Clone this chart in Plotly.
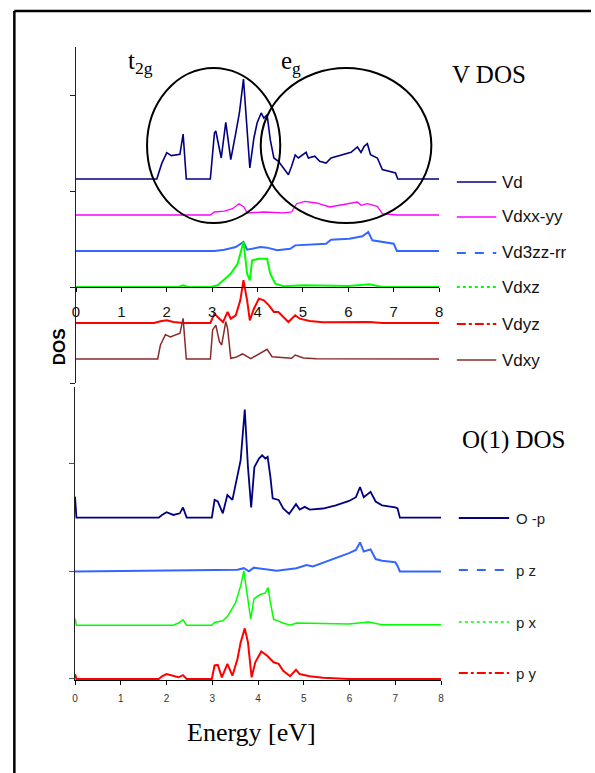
import plotly.graph_objects as go

# ---------------- data (energy in eV, DOS relative to each curve's baseline) -------------
# V DOS panel
E_VD = [0, 1.78, 1.89, 2.0, 2.1, 2.29, 2.36, 2.43, 2.96, 3.05, 3.08, 3.20, 3.30, 3.41, 3.52, 3.60, 3.69, 3.83,
        3.92, 3.99, 4.08, 4.14, 4.21, 4.28, 4.36, 4.46, 4.57, 4.68, 4.75, 4.83, 4.90, 5.07, 5.12, 5.26,
        5.37, 5.51, 5.62, 5.88, 6.06, 6.20, 6.28, 6.35, 6.42, 6.49, 6.64, 6.75, 6.89, 7.04, 7.09, 8.05]
D_VD = [0, 0, 1.3, 2.2, 1.95, 2.05, 3.75, 0, 0, 3.83, 4.0, 1.75, 4.72, 1.61, 3.83, 5.5, 8.33, 0.92,
        3.42, 4.67, 5.5, 5.08, 5.36, 3.28, 1.75, 1.47, 0.92, 0.36, 1.06, 2.0, 1.75, 2.22, 1.75, 1.9,
        1.47, 1.33, 1.75, 2.03, 2.22, 2.67, 2.22, 2.72, 2.94, 2.03, 1.75, 0.78, 0.64, 0.5, 0, 0]

E_DXXYY = [0, 2.96, 3.05, 3.27, 3.45, 3.59, 3.70, 3.77, 4.14, 4.57, 4.75, 4.86, 5.04, 5.30, 5.59,
           5.88, 6.20, 6.28, 6.42, 6.64, 6.75, 7.07, 8.05]
D_DXXYY = [0, 0, 0.25, 0.33, 0.53, 0.94, 0.67, 0.17, 0.25, 0.17, 0.25, 0.94, 1.14, 1.0, 0.67,
           0.86, 1.08, 0.81, 0.94, 0.72, 0.11, 0, 0]

E_D3ZZ = [0, 3.05, 3.27, 3.52, 3.69, 3.77, 4.07, 4.21, 4.43, 4.72, 4.83, 5.15, 5.51, 5.62, 6.02,
          6.31, 6.44, 6.53, 6.75, 7.0, 7.07, 8.05]
D_D3ZZ = [0, 0, 0.11, 0.33, 0.75, 0.11, 0.33, 0.28, 0.06, 0.19, 0.47, 0.56, 0.61, 0.94, 1.03,
          1.22, 1.58, 0.89, 0.75, 0.61, 0, 0]

E_DXZ = [0, 2.25, 2.36, 2.47, 2.96, 3.12, 3.41, 3.56, 3.69, 3.77, 3.83, 3.88, 4.03, 4.21, 4.28,
         4.39, 4.57, 5.01, 6.02, 6.46, 6.75, 8.05]
D_DXZ = [0, 0, 0.14, 0, 0, 0.14, 1.11, 1.94, 3.75, 1.11, 0.56, 2.22, 2.36, 2.36, 1.11,
         0.28, 0.06, 0.14, 0.08, 0.22, 0, 0]

E_DYZ = [0, 1.72, 1.86, 2.0, 2.15, 2.36, 2.96, 3.05, 3.16, 3.24, 3.34, 3.41, 3.52, 3.62, 3.69, 3.77,
         3.83, 3.92, 4.03, 4.14, 4.25, 4.36, 4.46, 4.57, 4.68, 4.83, 4.93, 5.15, 5.44, 6.46, 6.75, 8.05]
D_DYZ = [0, 0, 0.14, 0.22, 0.08, 0, 0, 0.78, 0.36, 0.08, 0.92, 0.36, 0.64, 1.89, 3.56, 1.89,
         0.22, 1.19, 2.03, 1.89, 1.47, 0.92, 0.92, 0.5, 0.08, 0.64, 0.36, 0.17, 0.06, 0.08, 0, 0]

E_DXY = [0, 1.80, 1.86, 1.97, 2.08, 2.29, 2.36, 2.43, 2.96, 3.01, 3.08, 3.16, 3.21, 3.30, 3.34, 3.41,
         3.52, 3.67, 3.85, 3.99, 4.21, 4.32, 4.57, 4.75, 4.83, 5.01, 5.30, 8.05]
D_DXY = [0, 0, 1.17, 2.03, 1.83, 2.14, 3.39, 0, 0, 2.42, 2.83, 1.44, 1.17, 3.11, 2.56, 0.06,
         0.14, 0.42, 0.03, 0.33, 0.81, 0.19, 0.11, 0.06, 0.33, 0.08, 0.03, 0]

# O(1) DOS panel
E_OP = [0, 0.03, 1.83, 1.90, 2.00, 2.15, 2.29, 2.36, 2.44, 2.99, 3.05, 3.12, 3.23, 3.33, 3.44, 3.55,
        3.62, 3.71, 3.78, 3.85, 3.92, 4.02, 4.09, 4.16, 4.21, 4.27, 4.32, 4.45, 4.55, 4.68, 4.83,
        4.91, 5.02, 5.13, 5.42, 5.70, 5.99, 6.14, 6.23, 6.31, 6.46, 6.57, 6.71, 7.00, 7.05, 7.10, 8.05]
D_OP = [0.39, 0, 0, 0.05, 0.10, 0.05, 0.08, 0.19, 0, 0, 0.33, 0.30, 0.08, 0.42, 0.33, 0.82,
        1.07, 2.01, 0.94, 0.19, 0.94, 1.10, 1.16, 1.10, 1.13, 0.76, 0.36, 0.33, 0.17, 0.07, 0.25,
        0.15, 0.20, 0.15, 0.17, 0.23, 0.31, 0.38, 0.57, 0.38, 0.48, 0.30, 0.23, 0.19, 0.17, 0, 0]

E_PZ = [0, 3.55, 3.69, 3.80, 3.91, 4.12, 4.41, 4.84, 5.06, 5.20, 5.63, 5.99, 6.14, 6.23, 6.31,
        6.46, 6.57, 6.71, 7.00, 7.05, 7.10, 8.05]
D_PZ = [0, 0.03, 0.06, 0, 0.07, 0.04, 0.01, 0.06, 0.12, 0.09, 0.22, 0.34, 0.40, 0.54, 0.37,
        0.41, 0.23, 0.20, 0.17, 0.10, 0, 0]

E_PX = [0, 0.03, 2.15, 2.26, 2.36, 2.44, 2.99, 3.05, 3.23, 3.33, 3.51, 3.62, 3.69, 3.76, 3.84, 3.91,
        4.05, 4.16, 4.22, 4.27, 4.34, 4.55, 4.70, 4.84, 5.27, 5.99, 6.42, 6.71, 8.05]
D_PX = [0.12, 0, 0, 0.04, 0.10, 0, 0, 0.05, 0.08, 0.16, 0.42, 0.73, 1.01, 0.60, 0.11, 0.49,
        0.57, 0.60, 0.70, 0.42, 0.11, 0.04, 0, 0.04, 0.03, 0.02, 0.06, 0.01, 0.01]

E_PY = [0, 0.03, 1.83, 1.90, 2.00, 2.11, 2.26, 2.36, 2.44, 2.99, 3.05, 3.12, 3.21, 3.33, 3.44, 3.55,
        3.62, 3.71, 3.78, 3.86, 3.94, 4.07, 4.20, 4.34, 4.45, 4.55, 4.70, 4.83, 4.91, 5.13, 5.42,
        5.99, 8.05]
D_PY = [0.09, 0, 0, 0.05, 0.09, 0.06, 0.03, 0.07, 0, 0, 0.25, 0.26, 0.03, 0.28, 0.06, 0.37,
        0.68, 0.94, 0.68, 0.03, 0.31, 0.51, 0.43, 0.31, 0.28, 0.15, 0.05, 0.17, 0.09, 0.05, 0.02,
        0, 0]

TOP_NAMES = ["Vd", "Vdxx-yy", "Vd3zz-rr", "Vdxz", "Vdyz", "Vdxy"]
BOT_NAMES = ["O -p", "p z", "p x", "p y"]
X_TICKS = [0, 1, 2, 3, 4, 5, 6, 7, 8]

# ---------------- styling / layout ----------------
W, H = 595, 773
SANS = "Liberation Sans, Arial, sans-serif"
SERIF = "Liberation Serif, Times New Roman, serif"

def fx(p):
    return p / W

def fy(p):
    return 1 - p / H

top_series = [
    (E_VD, D_VD, 9, "#000080", "solid", 1.6),
    (E_DXXYY, D_DXXYY, 6, "#FF00FF", "solid", 1.3),
    (E_D3ZZ, D_D3ZZ, 3, "#3366FF", "dash", 2),
    (E_DXZ, D_DXZ, 0, "#00FF00", "dot", 2),
    (E_DYZ, D_DYZ, -3, "#FF0000", "dashdot", 2),
    (E_DXY, D_DXY, -6, "#8B2A2A", "solid", 1.5),
]
bot_series = [
    (E_OP, D_OP, 3, "#000080", "solid", 1.8),
    (E_PZ, D_PZ, 2, "#3366FF", "dash", 2),
    (E_PX, D_PX, 1, "#00FF00", "dot", 1.5),
    (E_PY, D_PY, 0, "#FF0000", "dashdot", 2),
]

fig = go.Figure()
for (e, d, off, col, dash, w), name in zip(top_series, TOP_NAMES):
    fig.add_trace(go.Scatter(x=e, y=[v + off for v in d], mode="lines", name=name,
                             line=dict(color=col, width=w), xaxis="x", yaxis="y",
                             showlegend=False))
for (e, d, off, col, dash, w), name in zip(bot_series, BOT_NAMES):
    fig.add_trace(go.Scatter(x=e, y=[v + off for v in d], mode="lines", name=name,
                             line=dict(color=col, width=w), xaxis="x2", yaxis="y2",
                             showlegend=False))

shapes = []
# circles around t2g and eg regions (top panel data coordinates)
shapes.append(dict(type="circle", xref="x", yref="y", x0=1.565, x1=4.5, y0=5.33, y1=18.25,
                   line=dict(color="black", width=2)))
shapes.append(dict(type="circle", xref="x", yref="y", x0=4.07, x1=7.83, y0=5.33, y1=18.25,
                   line=dict(color="black", width=2)))
# outer frame
shapes.append(dict(type="line", xref="paper", yref="paper", x0=fx(10.5), x1=1.0, y0=fy(11), y1=fy(11),
                   line=dict(color="black", width=2.5)))
shapes.append(dict(type="line", xref="paper", yref="paper", x0=fx(10.5), x1=fx(10.5), y0=fy(11), y1=0,
                   line=dict(color="black", width=2.5)))

annotations = []
# legends
top_leg_y = [182, 217, 253, 287, 324, 360]
for (e, d, off, col, dash, w), name, yy in zip(top_series, TOP_NAMES, top_leg_y):
    shapes.append(dict(type="line", xref="paper", yref="paper", x0=fx(459), x1=fx(499),
                       y0=fy(yy), y1=fy(yy), line=dict(color=col, width=w, dash=dash)))
    annotations.append(dict(text=name, x=fx(503), y=fy(yy), xref="paper", yref="paper",
                            xanchor="left", yanchor="middle", showarrow=False,
                            font=dict(family=SANS, size=17, color="#111")))
bot_leg_y = [518, 570, 622, 673]
for (e, d, off, col, dash, w), name, yy in zip(bot_series, BOT_NAMES, bot_leg_y):
    shapes.append(dict(type="line", xref="paper", yref="paper", x0=fx(461), x1=fx(512),
                       y0=fy(yy), y1=fy(yy), line=dict(color=col, width=w, dash=dash)))
    annotations.append(dict(text=name, x=fx(517), y=fy(yy), xref="paper", yref="paper",
                            xanchor="left", yanchor="middle", showarrow=False,
                            font=dict(family=SANS, size=15, color="#222")))

def txt(t, x, y, size, family=SERIF, **kw):
    annotations.append(dict(text=t, x=fx(x), y=fy(y), xref="paper", yref="paper",
                            xanchor="center", yanchor="middle", showarrow=False,
                            font=dict(family=family, size=size, color="black"), **kw))

txt("t<sub>2g</sub>", 138, 63, 25)
txt("e<sub>g</sub>", 291, 63, 25)
txt("V DOS", 492, 75, 25)
txt("O(1) DOS", 516, 440, 25)
txt("Energy [eV]", 251, 732, 26)
txt("<b>DOS</b>", 56, 347, 17, family=SANS, textangle=-90)

fig.update_layout(
    width=W, height=H, margin=dict(l=0, r=0, t=0, b=0),
    paper_bgcolor="white", plot_bgcolor="rgba(0,0,0,0)",
    showlegend=False, shapes=shapes, annotations=annotations,
    xaxis=dict(domain=[fx(73), fx(441)], range=[0, 8], anchor="free", position=fy(287),
               showline=True, linecolor="black", linewidth=1, ticks="outside", ticklen=4,
               tickcolor="black", tickvals=X_TICKS, ticktext=[str(v) for v in X_TICKS],
               tickfont=dict(family=SANS, size=15, color="#111"), ticklabelstandoff=7,
               showgrid=False, zeroline=False),
    yaxis=dict(domain=[fy(383), fy(47)], range=[-8, 20], anchor="x",
               showline=True, linecolor="#222", linewidth=1, ticks="outside", ticklen=5,
               tickcolor="#222", tickvals=[-8, 0, 8, 16], showticklabels=False,
               showgrid=False, zeroline=False),
    xaxis2=dict(domain=[fx(72), fx(443)], range=[0, 8], anchor="y2",
                showline=True, linecolor="black", linewidth=1, ticks="outside", ticklen=4,
                tickcolor="black", tickvals=X_TICKS, ticktext=[str(v) for v in X_TICKS],
                tickfont=dict(family=SANS, size=10, color="#333"), ticklabelstandoff=5,
                showgrid=False, zeroline=False),
    yaxis2=dict(domain=[fy(680), fy(387)], range=[-0.02, 5.43], anchor="x2",
                showline=True, linecolor="#222", linewidth=1, ticks="outside", ticklen=5,
                tickcolor="#555", tickvals=[0, 2, 4], showticklabels=False,
                showgrid=False, zeroline=False),
)

fig.write_html("out.html", config={"displayModeBar": False},
               post_script="document.body.style.margin='0';document.body.style.overflow='hidden';")
